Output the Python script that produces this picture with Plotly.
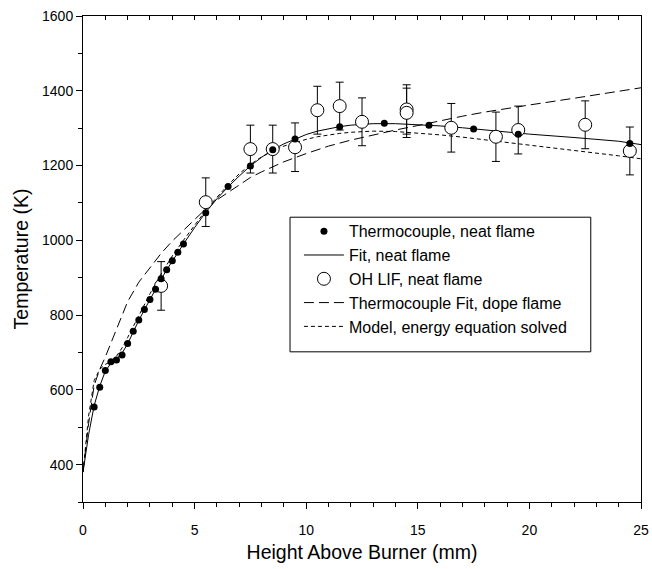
import plotly.graph_objects as go

# Thermocouple measurements, neat flame
tc_x = [0.5, 0.75, 1.0, 1.25, 1.5, 1.75, 2.0, 2.25, 2.5, 2.75, 3.0, 3.25, 3.5, 3.75,
        4.0, 4.25, 4.5, 5.5, 6.5, 7.5, 8.5, 9.5, 11.5, 13.5, 15.5, 17.5, 19.5, 24.5]
tc_T = [554, 607, 652, 675, 680, 693, 724, 757, 787, 815, 842, 869, 897, 921,
        945, 968, 990, 1074, 1144, 1199, 1242, 1271, 1304, 1313, 1308, 1298, 1284, 1259]

# Fit to thermocouple data, neat flame
fit_x = [0, 0.25, 0.5, 0.75, 1.0, 1.25, 1.5, 1.75, 2.0, 2.25, 2.5, 2.75, 3.0, 3.25, 3.5,
         3.75, 4.0, 4.25, 4.5, 5.0, 5.5, 6.0, 6.5, 7.0, 7.5, 8.0, 8.5, 9.0, 9.5, 10.0,
         10.5, 11.0, 11.5, 12.0, 13.0, 14.0, 15.0, 16.0, 17.0, 18.0, 19.0, 20.0, 22.0,
         24.0, 25.0]
fit_T = [380, 480, 558, 610, 650, 671, 683, 698, 723, 755, 786, 814, 842, 869, 896,
         921, 945, 968, 990, 1034, 1075, 1111, 1143, 1172, 1199, 1222, 1242, 1258, 1271, 1283,
         1292, 1299, 1304, 1308, 1312, 1312, 1310, 1306, 1301, 1295, 1289, 1284, 1275,
         1265, 1256]

# OH LIF measurements, neat flame
lif_x = [3.5, 5.5, 7.5, 8.5, 9.5, 10.5, 11.5, 12.5, 14.5, 14.5, 16.5, 18.5, 19.5, 22.5, 24.5]
lif_T = [878, 1102, 1244, 1244, 1249, 1348, 1359, 1317, 1350, 1341, 1301, 1277, 1295, 1309, 1239]
lif_err = [65, 65, 64, 64, 65, 64, 64, 64, 66, 66, 65, 66, 64, 64, 64]

# Thermocouple fit, doped flame
dope_x = [0, 0.25, 0.5, 0.75, 1.0, 1.25, 1.5, 1.75, 2.0, 2.5, 3.0, 3.5, 4.0, 4.5, 5.0,
          5.5, 6.0, 6.5, 7.0, 7.5, 8.0, 8.5, 9.0, 10.0, 11.0, 12.0, 13.0, 14.0, 15.0,
          16.0, 17.0, 18.0, 19.0, 20.0, 22.0, 24.0, 25.0]
dope_T = [380, 510, 612, 655, 688, 725, 762, 800, 836, 888, 928, 965, 998, 1026, 1054,
          1084, 1108, 1128, 1150, 1168, 1183, 1197, 1210, 1232, 1252, 1268, 1282, 1295, 1307,
          1320, 1332, 1343, 1353, 1362, 1380, 1399, 1408]

# Model with the energy equation solved
model_x = [0, 0.25, 0.5, 0.75, 1.0, 1.25, 1.5, 1.75, 2.0, 2.5, 3.0, 3.5, 4.0, 4.5, 5.0,
           5.5, 6.0, 6.5, 7.0, 7.5, 8.0, 8.5, 9.0, 9.5, 10.0, 10.5, 11.0, 11.5, 12.0,
           13.0, 14.0, 15.0, 16.0, 17.0, 18.0, 19.0, 20.0, 22.0, 24.0, 25.0]
model_T = [380, 530, 625, 655, 668, 676, 690, 712, 740, 800, 857, 910, 958, 1000, 1040,
           1080, 1115, 1148, 1178, 1203, 1223, 1239, 1252, 1262, 1270, 1277, 1282, 1286, 1289,
           1292, 1291, 1287, 1282, 1276, 1269, 1262, 1255, 1240, 1226, 1218]

FONT = "Liberation Sans, Arial, sans-serif"

fig = go.Figure()

fig.add_trace(go.Scatter(
    x=fit_x, y=fit_T, mode="lines", name="Fit, neat flame",
    line=dict(color="black", width=1), legendrank=2))
fig.add_trace(go.Scatter(
    x=dope_x, y=dope_T, mode="lines", name="Thermocouple Fit, dope flame",
    line=dict(color="black", width=1, dash="10px,5px"), legendrank=4))
fig.add_trace(go.Scatter(
    x=model_x, y=model_T, mode="lines", name="Model, energy equation solved",
    line=dict(color="black", width=1, dash="4px,3px"), legendrank=5))
fig.add_trace(go.Scatter(
    x=lif_x, y=lif_T, mode="markers", name="OH LIF, neat flame",
    marker=dict(symbol="circle", size=13, color="white",
                line=dict(color="black", width=1)),
    error_y=dict(type="data", array=lif_err, visible=True,
                 color="black", thickness=1, width=4),
    legendrank=3))
fig.add_trace(go.Scatter(
    x=tc_x, y=tc_T, mode="markers", name="Thermocouple, neat flame",
    marker=dict(symbol="circle", size=7, color="black"), legendrank=1))

# Invisible trace that carries the top axis
fig.add_trace(go.Scatter(x=[0, 25], y=[300, 300], xaxis="x2", mode="markers",
                         marker=dict(opacity=0), showlegend=False, hoverinfo="skip"))

# Frame around the legend
fig.add_shape(type="rect", xref="paper", yref="paper",
              x0=0.371, x1=0.910, y0=0.309, y1=0.586,
              line=dict(color="black", width=1), fillcolor="white", layer="below")

fig.update_layout(
    width=652, height=569,
    margin=dict(l=83, r=11, t=16, b=67, autoexpand=False),
    paper_bgcolor="white", plot_bgcolor="white",
    font=dict(family=FONT, color="black"),
    showlegend=True,
    legend=dict(
        x=0.387, y=0.592, xanchor="left", yanchor="top",
        bgcolor="rgba(0,0,0,0)", borderwidth=0,
        font=dict(family=FONT, size=16, color="black"),
        tracegroupgap=0, itemwidth=40,
    ),
    xaxis=dict(
        range=[0, 25], tick0=0, dtick=5, ticks="outside", ticklen=6, tickwidth=1,
        tickcolor="black", showline=True, linecolor="black", linewidth=1,
        mirror=True, showgrid=False, zeroline=False, ticklabelstandoff=9,
        automargin=False,
        tickfont=dict(family=FONT, size=14),
        minor=dict(dtick=1, ticks="outside", ticklen=4, tickcolor="black", showgrid=False),
        title=dict(text="Height Above Burner (mm)", font=dict(family=FONT, size=19.5),
                   standoff=8),
    ),
    xaxis2=dict(
        range=[0, 25], overlaying="x", side="top", anchor="y",
        tick0=0, dtick=1, ticks="inside", ticklen=4, tickcolor="black",
        showticklabels=False, showline=False, showgrid=False, zeroline=False,
        automargin=False,
    ),
    yaxis=dict(
        range=[300, 1600], tick0=400, dtick=200, ticks="outside", ticklen=6, tickwidth=1,
        tickcolor="black", showline=True, linecolor="black", linewidth=1,
        mirror=True, showgrid=False, zeroline=False, automargin=False,
        tickfont=dict(family=FONT, size=14),
        minor=dict(dtick=100, ticks="outside", ticklen=4, tickcolor="black", showgrid=False),
        title=dict(text="Temperature (K)", font=dict(family=FONT, size=19.5), standoff=8),
    ),
)

fig.write_html("out.html")
